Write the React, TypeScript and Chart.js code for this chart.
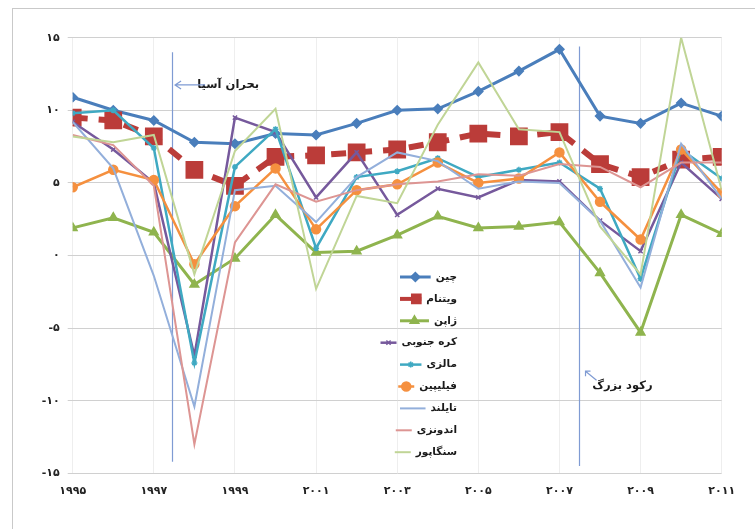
import React, { useEffect, useRef } from "react";
import { Chart, registerables } from "chart.js";
import { drawPoint } from "chart.js/helpers";

Chart.register(...registerables);

const years = [1995, 1996, 1997, 1998, 1999, 2000, 2001, 2002, 2003, 2004, 2005, 2006, 2007, 2008, 2009, 2010, 2011];

const seriesNames = ["چین", "ویتنام", "ژاپن", "کره جنوبی", "مالزی", "فیلیپین", "تایلند", "اندونزی", "سنگاپور"];

const china = [10.9, 10.0, 9.3, 7.8, 7.7, 8.4, 8.3, 9.1, 10.0, 10.1, 11.3, 12.7, 14.2, 9.6, 9.1, 10.5, 9.6];
const vietnam = [9.5, 9.3, 8.2, 5.9, 4.8, 6.8, 6.9, 7.1, 7.3, 7.8, 8.4, 8.2, 8.5, 6.3, 5.4, 6.6, 6.8];
const japan = [1.9, 2.6, 1.6, -2.0, -0.2, 2.8, 0.2, 0.3, 1.4, 2.7, 1.9, 2.0, 2.3, -1.2, -5.3, 2.8, 1.5];
const korea = [9.2, 7.3, 5.0, -6.9, 9.5, 8.5, 4.0, 7.1, 2.8, 4.6, 4.0, 5.2, 5.1, 2.4, 0.3, 6.4, 3.9];
const malaysia = [9.8, 10.0, 7.4, -7.4, 6.1, 8.7, 0.5, 5.4, 5.8, 6.7, 5.4, 5.9, 6.4, 4.6, -1.6, 7.3, 5.3];
const philippines = [4.7, 5.9, 5.2, -0.6, 3.4, 6.0, 1.8, 4.5, 4.9, 6.4, 5.0, 5.3, 7.1, 3.7, 1.1, 7.3, 4.3];
const thailand = [9.2, 6.0, -1.4, -10.4, 4.5, 4.8, 2.3, 5.4, 7.1, 6.5, 4.6, 5.1, 5.0, 2.4, -2.2, 7.7, 3.9];
const indonesia = [8.3, 7.6, 4.8, -13.0, 0.9, 4.9, 3.7, 4.5, 4.9, 5.1, 5.6, 5.5, 6.3, 6.1, 4.7, 6.4, 6.4];
const singapore = [8.2, 7.8, 8.3, -1.3, 7.2, 10.1, -2.3, 4.1, 3.6, 9.0, 13.3, 8.7, 8.5, 2.0, -1.3, 15.0, 4.5];

const seriesValues = [china, vietnam, japan, korea, malaysia, philippines, thailand, indonesia, singapore];

// event markers (vertical lines) with their labels
const eventLabels = ["بحران آسیا", "رکود بزرگ"];
const eventYears = [1997.45, 2007.47];
const eventTop = [14.0, 14.4];
const eventBottom = [-14.2, -14.5];

const FONT = "'DejaVu Sans', sans-serif";

const styles = [
  { color: "#4a7ebb", width: 3, point: "rectRot", radius: 4.5 },
  { color: "#bb3c39", width: 6, point: "rect", radius: 11.5, dash: [15, 11] },
  { color: "#8fb44e", width: 3, point: "triangle", radius: 5 },
  { color: "#76599c", width: 2.5, point: "crossRot", radius: 3 },
  { color: "#3fa9c2", width: 2.5, point: "star", radius: 3 },
  { color: "#f5903f", width: 2.5, point: "circle", radius: 4.5 },
  { color: "#93afdb", width: 2, point: "line", radius: 0 },
  { color: "#dd9593", width: 2, point: "line", radius: 0 },
  { color: "#c0d596", width: 2, point: "line", radius: 0 },
];

const toFa = (v: number | string) =>
  String(v).replace(/[0-9]/g, (d) => "۰۱۲۳۴۵۶۷۸۹"[+d]);

const decorPlugin = {
  id: "decor",
  beforeDraw(chart: any) {
    const { ctx, width, height } = chart;
    ctx.save();
    ctx.fillStyle = "#ffffff";
    ctx.fillRect(0, 0, width, height);
    ctx.strokeStyle = "#c9c9c9";
    ctx.lineWidth = 1;
    ctx.strokeRect(12.5, 8.5, width + 20, height + 20);
    ctx.restore();
  },
  beforeDatasetsDraw(chart: any) {
    const { ctx, scales } = chart;
    const xs = scales.x;
    const ys = scales.y;
    ctx.save();
    ctx.strokeStyle = "#7f9bd3";
    ctx.lineWidth = 1.2;
    eventYears.forEach((yr, i) => {
      const px = Math.round(xs.getPixelForValue(yr)) + 0.5;
      ctx.beginPath();
      ctx.moveTo(px, ys.getPixelForValue(eventTop[i]));
      ctx.lineTo(px, ys.getPixelForValue(eventBottom[i]));
      ctx.stroke();
    });
    ctx.restore();
  },
  afterDatasetsDraw(chart: any) {
    const { ctx, scales } = chart;
    const xs = scales.x;
    const ys = scales.y;
    ctx.save();
    // event labels
    ctx.font = `bold 11.5px ${FONT}`;
    ctx.fillStyle = "#1a1a1a";
    ctx.textAlign = "right";
    ctx.textBaseline = "middle";
    ctx.strokeStyle = "#7f9bd3";
    ctx.lineWidth = 1.2;
    // Asian crisis
    {
      const lx = xs.getPixelForValue(eventYears[0]);
      const y = ys.getPixelForValue(11.75);
      ctx.fillText(eventLabels[0], lx + 87, y);
      ctx.beginPath();
      ctx.moveTo(lx + 33, y);
      ctx.lineTo(lx + 3, y);
      ctx.moveTo(lx + 9, y - 4);
      ctx.lineTo(lx + 3, y);
      ctx.lineTo(lx + 9, y + 4);
      ctx.stroke();
    }
    // Great recession
    {
      const lx = xs.getPixelForValue(eventYears[1]);
      const y = ys.getPixelForValue(-9.0);
      ctx.fillText(eventLabels[1], lx + 74, y);
      ctx.beginPath();
      ctx.moveTo(lx + 18, y - 6);
      ctx.lineTo(lx + 7, y - 15);
      ctx.moveTo(lx + 7, y - 10);
      ctx.lineTo(lx + 7, y - 15);
      ctx.lineTo(lx + 12, y - 15);
      ctx.stroke();
    }

    // legend
    ctx.font = `bold 10.5px ${FONT}`;
    const right = 457;
    const left = 400;
    const top = 277;
    const step = 21.9;
    seriesNames.forEach((name, i) => {
      const st = styles[i];
      const y = top + i * step;
      const tw = ctx.measureText(name).width;
      const x1 = right - tw - 5;
      const x0 = Math.min(left, x1 - 16);
      ctx.strokeStyle = st.color;
      ctx.lineWidth = Math.min(st.width, 4);
      ctx.setLineDash([]);
      ctx.beginPath();
      ctx.moveTo(x0, y);
      ctx.lineTo(x1, y);
      ctx.stroke();
      if (st.radius > 0) {
        ctx.fillStyle = st.color;
        ctx.strokeStyle = st.color;
        ctx.lineWidth = 1.5;
        drawPoint(
          ctx,
          { pointStyle: st.point, radius: Math.min(st.radius, 6.5), borderWidth: 1.5, rotation: 0 },
          i === 1 ? x1 - 5 : (x0 + x1) / 2,
          y
        );
      }
      ctx.fillStyle = "#1a1a1a";
      ctx.textAlign = "right";
      ctx.fillText(name, right, y);
    });
    ctx.restore();
  },
};

export default function App() {
  const ref = useRef<HTMLCanvasElement | null>(null);

  useEffect(() => {
    if (!ref.current) return;
    const datasets = seriesNames.map((name, i) => {
      const st = styles[i];
      return {
        label: name,
        data: years.map((x, j) => ({ x, y: seriesValues[i][j] })),
        borderColor: st.color,
        backgroundColor: st.color,
        borderWidth: st.width,
        borderDash: st.dash || [],
        pointStyle: st.point,
        pointRadius: st.radius,
        pointBackgroundColor: st.color,
        pointBorderColor: st.color,
        pointBorderWidth: 1.5,
        tension: 0,
        fill: false,
        order: seriesNames.length - i,
      };
    });

    const chart = new Chart(ref.current, {
      type: "line",
      data: { datasets },
      plugins: [decorPlugin],
      options: {
        animation: false,
        responsive: false,
        devicePixelRatio: 1,
        layout: { padding: { left: 0, right: 33.3, top: 37.7, bottom: 0 } },
        plugins: { legend: { display: false }, tooltip: { enabled: false } },
        scales: {
          x: {
            type: "linear",
            min: 1995,
            max: 2011,
            ticks: {
              stepSize: 2,
              callback: (v: any) => toFa(v),
              font: { family: FONT, size: 11, weight: "bold" },
              color: "#222",
              padding: 11,
              maxRotation: 0,
            },
            grid: { color: "#eeeeee", drawTicks: false },
            border: { display: false },
            afterFit: (s: any) => {
              s.height = 55.7;
            },
          },
          y: {
            min: -15,
            max: 15,
            ticks: {
              stepSize: 5,
              callback: (v: any) => toFa(v),
              font: { family: FONT, size: 11, weight: "bold" },
              color: "#222",
              padding: 8,
            },
            grid: { color: "#d0d0d0", tickLength: 5 },
            border: { display: false },
            afterFit: (s: any) => {
              s.width = 72.7;
            },
          },
        },
      },
    });
    return () => chart.destroy();
  }, []);

  return (
    <div style={{ position: "fixed", left: 0, top: 0, width: 755, height: 529, background: "#fff" }}>
      <canvas ref={ref} width={755} height={529} style={{ width: 755, height: 529, display: "block" }} />
    </div>
  );
}
